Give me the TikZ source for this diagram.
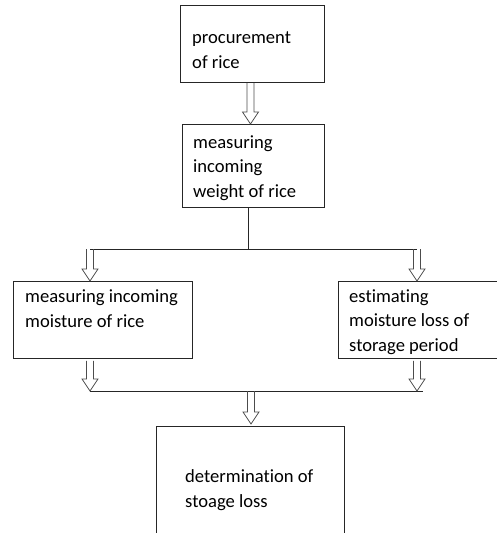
\documentclass[tikz,border=0pt]{standalone}
\usepackage{fontspec}
\setmainfont{Carlito}[Ligatures=NoCommon]
\usetikzlibrary{calc}
\tikzset{
  box/.style={draw=black!85, line width=0.8pt, rectangle, anchor=north west, inner sep=0pt},
  txt/.style={anchor=base west, align=left, inner sep=0pt,
    font=\fontsize{18.6}{24.5}\selectfont},
  hollow/.style={draw=black!70, line width=0.8pt, line join=miter,
    to path={let \p1=(\tikztostart), \p2=(\tikztotarget) in
      (\x1-3.5pt,\y1) -- (\x1-3.5pt,\y2+12pt) -- (\x1-8pt,\y2+12pt) -- (\x1,\y2)
      -- (\x1+8pt,\y2+12pt) -- (\x1+3.5pt,\y2+12pt) -- (\x1+3.5pt,\y1)}},
  joint/.style={draw=black!85, line width=0.8pt}
}
\begin{document}
\begin{tikzpicture}[x=1pt,y=-1pt]
  \useasboundingbox (0,0) rectangle (497,533);
  \clip (0,0) rectangle (497,533);
  % boxes
  \node[box, minimum width=144, minimum height=77] (procure) at (180,5) {};
  \node[box, minimum width=142, minimum height=83] (weight) at (182,124) {};
  \node[box, minimum width=179, minimum height=77] (moist) at (13,281) {};
  \node[box, minimum width=170, minimum height=77] (estim) at (338,281) {};
  \node[box, minimum width=188, minimum height=130] (determ) at (156,426) {};
  % texts (anchored on the last line)
  \node[txt] (procuretxt) at (192,68) {procurement\\of rice};
  \node[txt] (weighttxt) at (193,197) {measuring\\incoming\\weight of rice};
  \node[txt] (moisttxt) at (25,327) {measuring incoming\\moisture of rice};
  \node[txt] (estimtxt) at (349,351) {estimating\\moisture loss of\\storage period};
  \node[txt] (determtxt) at (185,507) {determination of\\stoage loss};
  % junction points
  \coordinate (splitM) at (248,249);
  \coordinate (splitL) at (90,249);
  \coordinate (splitR) at (417,249);
  \coordinate (joinL) at (90,391);
  \coordinate (joinR) at (423,391);
  \coordinate (joinM) at (251,391);
  % connectors
  \draw[joint] (weight.south -| splitM) -- (splitM);
  \draw[joint] (splitL) -- (splitR);
  \draw[joint] (joinL) -- (joinR);
  \draw[hollow] (procure.south -| 250.5,0) to (weight.north -| 250.5,0);
  \draw[hollow] (splitL) to (splitL |- moist.north);
  \draw[hollow] (splitR) to (splitR |- estim.north);
  \draw[hollow] ([yshift=-2pt]moist.south -| joinL) to (joinL);
  \draw[hollow] ([yshift=-2pt]estim.south -| splitR) to (splitR |- joinL);
  \draw[hollow] (joinM) to ([yshift=2pt]joinM |- determ.north);
\end{tikzpicture}
\end{document}
